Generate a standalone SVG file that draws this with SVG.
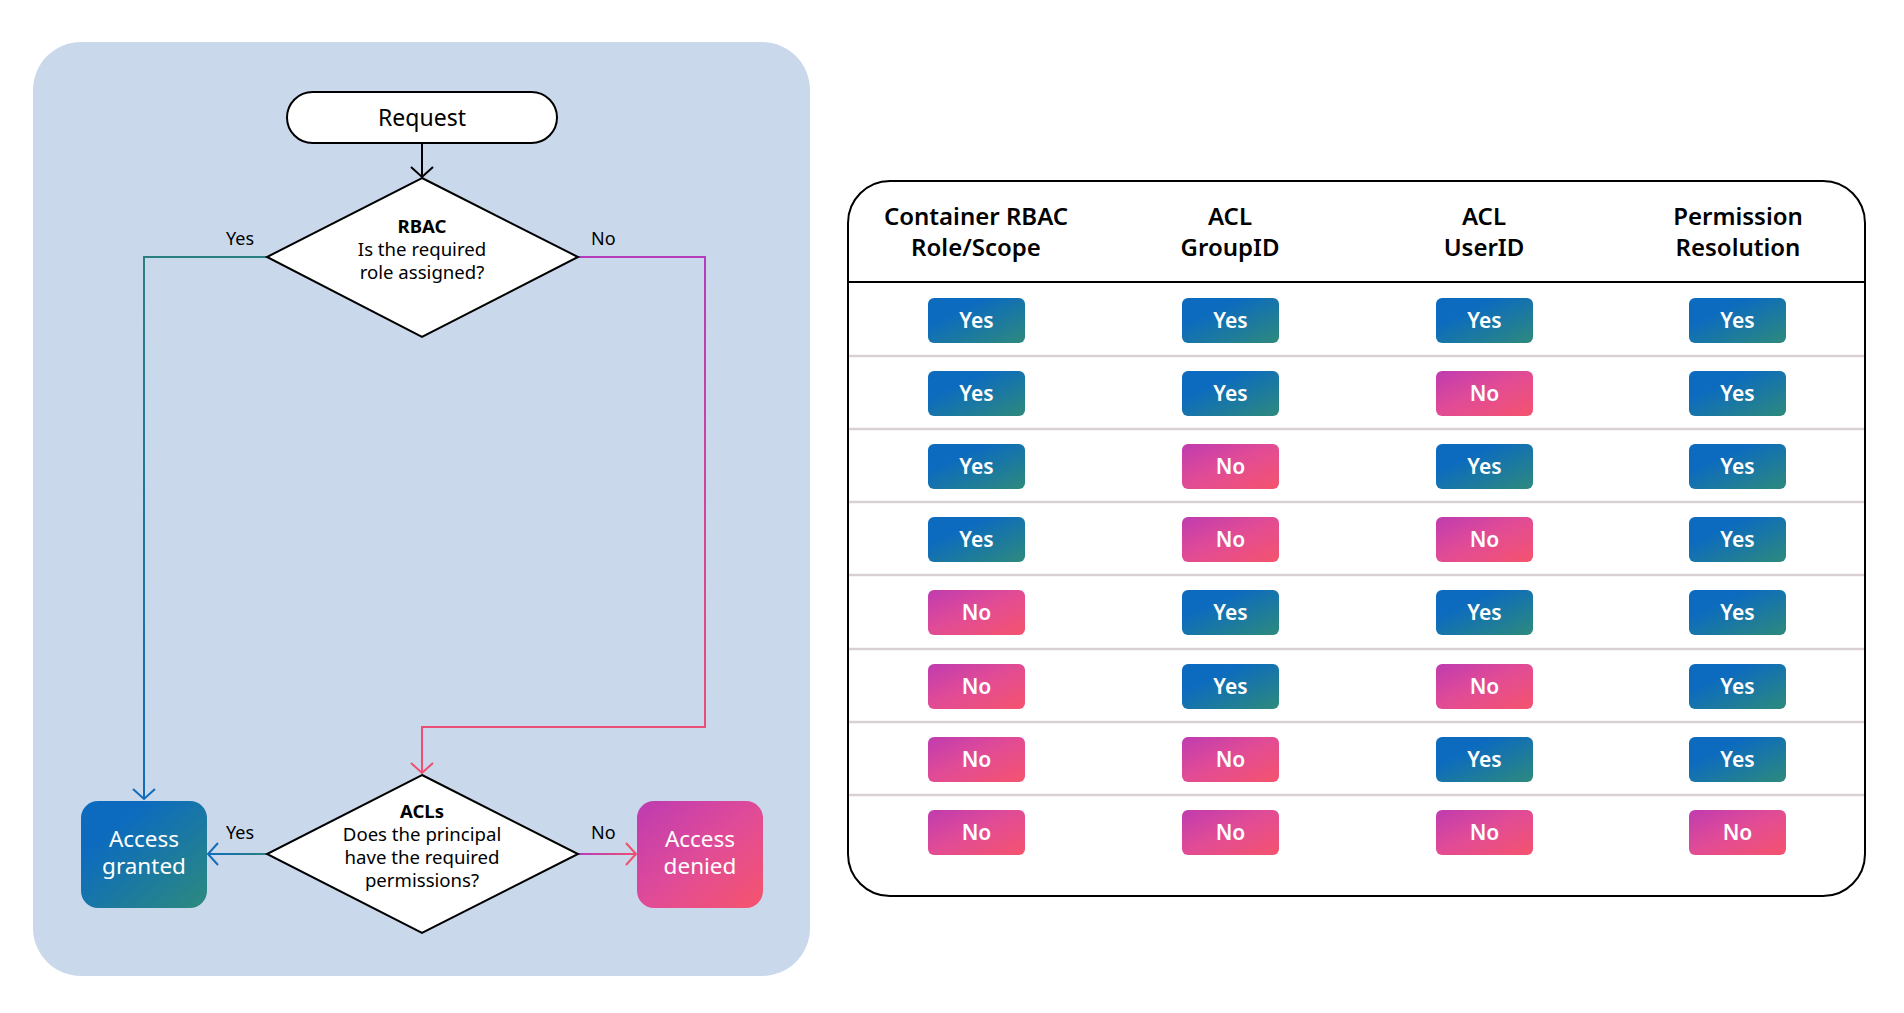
<svg xmlns="http://www.w3.org/2000/svg" width="1904" height="1013" viewBox="0 0 1904 1013">
<style>
text{font-family:"Noto Sans","Open Sans","DejaVu Sans",sans-serif;}
.lbl{font-size:18px;fill:#000;}
.dt{font-size:18.6px;fill:#000;text-anchor:middle;}
.dtb{font-size:18.6px;fill:#000;text-anchor:middle;font-weight:700;}
.big{font-size:22.5px;fill:#fff;text-anchor:middle;}
.hdr{font-size:24px;fill:#000;text-anchor:middle;font-weight:600;}
.btn{font-size:21px;fill:#fff;text-anchor:middle;font-weight:600;}
.shape{fill:#fff;stroke:#000;stroke-width:2;}
.sep{stroke:#d9d1d1;stroke-width:2.5;}
.conn{fill:none;stroke-width:2;}
</style>
<defs>
<linearGradient id="gYes" x1="0" y1="0" x2="1" y2="1">
<stop offset="0.3" stop-color="#0c6bbf"/><stop offset="1" stop-color="#2e8a7c"/>
</linearGradient>
<linearGradient id="gNo" x1="0" y1="0" x2="1" y2="1">
<stop offset="0" stop-color="#bf3bb0"/><stop offset="0.45" stop-color="#e04b97"/><stop offset="1" stop-color="#f5536d"/>
</linearGradient>
<linearGradient id="gGrant" x1="0" y1="0" x2="1" y2="1">
<stop offset="0.25" stop-color="#0c6bbf"/><stop offset="1" stop-color="#2d8a7e"/>
</linearGradient>
<linearGradient id="gDeny" x1="0" y1="0" x2="1" y2="1">
<stop offset="0" stop-color="#bd3bb1"/><stop offset="0.5" stop-color="#e04b98"/><stop offset="1" stop-color="#f6546c"/>
</linearGradient>
<linearGradient id="cYes1" gradientUnits="userSpaceOnUse" x1="0" y1="257" x2="0" y2="800">
<stop offset="0" stop-color="#2a8080"/><stop offset="1" stop-color="#0f6cbd"/>
</linearGradient>
<linearGradient id="cNo1" gradientUnits="userSpaceOnUse" x1="0" y1="257" x2="0" y2="775">
<stop offset="0" stop-color="#b43cbb"/><stop offset="1" stop-color="#f04f70"/>
</linearGradient>
<linearGradient id="cYes2" gradientUnits="userSpaceOnUse" x1="267" y1="0" x2="207" y2="0">
<stop offset="0" stop-color="#2a8080"/><stop offset="1" stop-color="#0f6cbd"/>
</linearGradient>
<linearGradient id="cNo2" gradientUnits="userSpaceOnUse" x1="578" y1="0" x2="637" y2="0">
<stop offset="0" stop-color="#b43cbb"/><stop offset="1" stop-color="#f04f70"/>
</linearGradient>
<marker id="aBlack" viewBox="-12 -12 14 24" refX="0" refY="0" markerWidth="14" markerHeight="24" markerUnits="userSpaceOnUse" orient="auto">
<path d="M-10,-11 L0,0 L-10,11" fill="none" stroke="#000" stroke-width="2"/>
</marker>
<marker id="aBlue" viewBox="-12 -12 14 24" refX="0" refY="0" markerWidth="14" markerHeight="24" markerUnits="userSpaceOnUse" orient="auto">
<path d="M-10,-11 L0,0 L-10,11" fill="none" stroke="#0f6cbd" stroke-width="2"/>
</marker>
<marker id="aBlue2" viewBox="-12 -12 14 24" refX="0" refY="0" markerWidth="14" markerHeight="24" markerUnits="userSpaceOnUse" orient="auto">
<path d="M-10,-11 L0,0 L-10,11" fill="none" stroke="#136db8" stroke-width="2"/>
</marker>
<marker id="aPink" viewBox="-12 -12 14 24" refX="0" refY="0" markerWidth="14" markerHeight="24" markerUnits="userSpaceOnUse" orient="auto">
<path d="M-10,-11 L0,0 L-10,11" fill="none" stroke="#f04f70" stroke-width="2"/>
</marker>
</defs>

<rect width="1904" height="1013" fill="#fff"/>
<rect id="panel" x="33" y="42" width="777" height="934" rx="48" fill="#cad8eb"/>

<g id="connectors">
<line class="conn" x1="422" y1="143" x2="422" y2="177" stroke="#000" marker-end="url(#aBlack)"/>
<polyline class="conn" points="267,257 144,257 144,799" stroke="url(#cYes1)" marker-end="url(#aBlue)"/>
<polyline class="conn" points="578,257 705,257 705,727 422,727 422,773" stroke="url(#cNo1)" marker-end="url(#aPink)"/>
<line class="conn" x1="267" y1="854" x2="208" y2="854" stroke="url(#cYes2)" marker-end="url(#aBlue2)"/>
<line class="conn" x1="578" y1="854" x2="636" y2="854" stroke="url(#cNo2)" marker-end="url(#aPink)"/>
<text class="lbl" x="226" y="245">Yes</text>
<text class="lbl" x="591" y="245">No</text>
<text class="lbl" x="226" y="839">Yes</text>
<text class="lbl" x="591" y="839">No</text>
</g>

<g id="request">
<rect class="shape" x="287" y="92" width="270" height="51" rx="25.5"/>
<text x="422" y="126" font-size="23" text-anchor="middle" fill="#000">Request</text>
</g>

<g id="rbac">
<polygon class="shape" points="422,178 578,257 422,337 267,257"/>
<text class="dtb" x="422" y="233">RBAC</text>
<text class="dt" x="422" y="256">Is the required</text>
<text class="dt" x="422" y="279">role assigned?</text>
</g>

<g id="acls">
<polygon class="shape" points="422,775 578,854 422,933 267,854"/>
<text class="dtb" x="422" y="818">ACLs</text>
<text class="dt" x="422" y="841">Does the principal</text>
<text class="dt" x="422" y="864">have the required</text>
<text class="dt" x="422" y="887">permissions?</text>
</g>

<g id="granted">
<rect x="81" y="801" width="126" height="107" rx="17" fill="url(#gGrant)"/>
<text class="big" x="144" y="846.5">Access</text>
<text class="big" x="144" y="874">granted</text>
</g>

<g id="denied">
<rect x="637" y="801" width="126" height="107" rx="17" fill="url(#gDeny)"/>
<text class="big" x="700" y="846.5">Access</text>
<text class="big" x="700" y="874">denied</text>
</g>

<g id="table">
<rect x="848" y="181" width="1017" height="715" rx="42" fill="#fff" stroke="#000" stroke-width="2"/>
<line x1="848" y1="282" x2="1865" y2="282" stroke="#000" stroke-width="2"/>
<text class="hdr" x="976" y="225">Container RBAC</text>
<text class="hdr" x="976" y="256">Role/Scope</text>
<text class="hdr" x="1230" y="225">ACL</text>
<text class="hdr" x="1230" y="256">GroupID</text>
<text class="hdr" x="1484" y="225">ACL</text>
<text class="hdr" x="1484" y="256">UserID</text>
<text class="hdr" x="1738" y="225">Permission</text>
<text class="hdr" x="1738" y="256">Resolution</text>
<line class="sep" x1="849" y1="356" x2="1864" y2="356"/>
<line class="sep" x1="849" y1="429" x2="1864" y2="429"/>
<line class="sep" x1="849" y1="502" x2="1864" y2="502"/>
<line class="sep" x1="849" y1="575" x2="1864" y2="575"/>
<line class="sep" x1="849" y1="649" x2="1864" y2="649"/>
<line class="sep" x1="849" y1="722" x2="1864" y2="722"/>
<line class="sep" x1="849" y1="795" x2="1864" y2="795"/>

<g id="row1">
<rect x="928" y="298" width="97" height="45" rx="6" fill="url(#gYes)"/><text class="btn" x="976.5" y="328">Yes</text>
<rect x="1182" y="298" width="97" height="45" rx="6" fill="url(#gYes)"/><text class="btn" x="1230.5" y="328">Yes</text>
<rect x="1436" y="298" width="97" height="45" rx="6" fill="url(#gYes)"/><text class="btn" x="1484.5" y="328">Yes</text>
<rect x="1689" y="298" width="97" height="45" rx="6" fill="url(#gYes)"/><text class="btn" x="1737.5" y="328">Yes</text>
</g>
<g id="row2">
<rect x="928" y="371" width="97" height="45" rx="6" fill="url(#gYes)"/><text class="btn" x="976.5" y="401">Yes</text>
<rect x="1182" y="371" width="97" height="45" rx="6" fill="url(#gYes)"/><text class="btn" x="1230.5" y="401">Yes</text>
<rect x="1436" y="371" width="97" height="45" rx="6" fill="url(#gNo)"/><text class="btn" x="1484.5" y="401">No</text>
<rect x="1689" y="371" width="97" height="45" rx="6" fill="url(#gYes)"/><text class="btn" x="1737.5" y="401">Yes</text>
</g>
<g id="row3">
<rect x="928" y="444" width="97" height="45" rx="6" fill="url(#gYes)"/><text class="btn" x="976.5" y="474">Yes</text>
<rect x="1182" y="444" width="97" height="45" rx="6" fill="url(#gNo)"/><text class="btn" x="1230.5" y="474">No</text>
<rect x="1436" y="444" width="97" height="45" rx="6" fill="url(#gYes)"/><text class="btn" x="1484.5" y="474">Yes</text>
<rect x="1689" y="444" width="97" height="45" rx="6" fill="url(#gYes)"/><text class="btn" x="1737.5" y="474">Yes</text>
</g>
<g id="row4">
<rect x="928" y="517" width="97" height="45" rx="6" fill="url(#gYes)"/><text class="btn" x="976.5" y="547">Yes</text>
<rect x="1182" y="517" width="97" height="45" rx="6" fill="url(#gNo)"/><text class="btn" x="1230.5" y="547">No</text>
<rect x="1436" y="517" width="97" height="45" rx="6" fill="url(#gNo)"/><text class="btn" x="1484.5" y="547">No</text>
<rect x="1689" y="517" width="97" height="45" rx="6" fill="url(#gYes)"/><text class="btn" x="1737.5" y="547">Yes</text>
</g>
<g id="row5">
<rect x="928" y="590" width="97" height="45" rx="6" fill="url(#gNo)"/><text class="btn" x="976.5" y="620">No</text>
<rect x="1182" y="590" width="97" height="45" rx="6" fill="url(#gYes)"/><text class="btn" x="1230.5" y="620">Yes</text>
<rect x="1436" y="590" width="97" height="45" rx="6" fill="url(#gYes)"/><text class="btn" x="1484.5" y="620">Yes</text>
<rect x="1689" y="590" width="97" height="45" rx="6" fill="url(#gYes)"/><text class="btn" x="1737.5" y="620">Yes</text>
</g>
<g id="row6">
<rect x="928" y="664" width="97" height="45" rx="6" fill="url(#gNo)"/><text class="btn" x="976.5" y="694">No</text>
<rect x="1182" y="664" width="97" height="45" rx="6" fill="url(#gYes)"/><text class="btn" x="1230.5" y="694">Yes</text>
<rect x="1436" y="664" width="97" height="45" rx="6" fill="url(#gNo)"/><text class="btn" x="1484.5" y="694">No</text>
<rect x="1689" y="664" width="97" height="45" rx="6" fill="url(#gYes)"/><text class="btn" x="1737.5" y="694">Yes</text>
</g>
<g id="row7">
<rect x="928" y="737" width="97" height="45" rx="6" fill="url(#gNo)"/><text class="btn" x="976.5" y="767">No</text>
<rect x="1182" y="737" width="97" height="45" rx="6" fill="url(#gNo)"/><text class="btn" x="1230.5" y="767">No</text>
<rect x="1436" y="737" width="97" height="45" rx="6" fill="url(#gYes)"/><text class="btn" x="1484.5" y="767">Yes</text>
<rect x="1689" y="737" width="97" height="45" rx="6" fill="url(#gYes)"/><text class="btn" x="1737.5" y="767">Yes</text>
</g>
<g id="row8">
<rect x="928" y="810" width="97" height="45" rx="6" fill="url(#gNo)"/><text class="btn" x="976.5" y="840">No</text>
<rect x="1182" y="810" width="97" height="45" rx="6" fill="url(#gNo)"/><text class="btn" x="1230.5" y="840">No</text>
<rect x="1436" y="810" width="97" height="45" rx="6" fill="url(#gNo)"/><text class="btn" x="1484.5" y="840">No</text>
<rect x="1689" y="810" width="97" height="45" rx="6" fill="url(#gNo)"/><text class="btn" x="1737.5" y="840">No</text>
</g>
</g>
</svg>
